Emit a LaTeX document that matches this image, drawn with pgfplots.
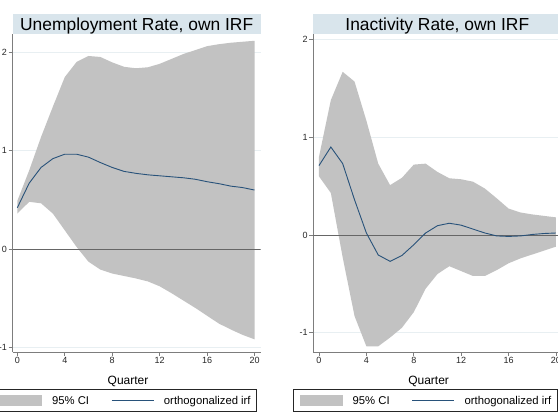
\documentclass[border=0pt]{standalone}
\usepackage{fontspec}
\setmainfont{Liberation Sans}
\usepackage{pgfplots}
\pgfplotsset{compat=1.18}
\usepackage{pgfplotstable}
\usepgfplotslibrary{fillbetween}

\definecolor{cigray}{RGB}{194,194,194}
\definecolor{irfnavy}{RGB}{40,82,122}
\definecolor{titlebg}{RGB}{217,229,236}
\definecolor{gridc}{RGB}{232,239,242}
\definecolor{axgray}{RGB}{125,125,125}

% Unemployment rate: response to own orthogonalized shock, with 95% band
\pgfplotstableread{
q   lo      irf     hi
0   0.36    0.42    0.49
1   0.48    0.67    0.80
2   0.465   0.83    1.14
3   0.36    0.92    1.45
4   0.19    0.965   1.75
5   0.02    0.965   1.905
6   -0.13   0.935   1.965
7   -0.21   0.88    1.955
8   -0.25   0.83    1.90
9   -0.275  0.79    1.855
10  -0.30   0.77    1.84
11  -0.33   0.755   1.85
12  -0.38   0.745   1.885
13  -0.45   0.735   1.935
14  -0.525  0.725   1.985
15  -0.60   0.71    2.025
16  -0.68   0.685   2.065
17  -0.76   0.665   2.085
18  -0.82   0.64    2.10
19  -0.875  0.625   2.11
20  -0.92   0.60    2.12
}\unemp

% Inactivity rate: response to own orthogonalized shock, with 95% band
\pgfplotstableread{
q   lo      irf     hi
0   0.60    0.71    0.80
1   0.43    0.90    1.38
2   -0.23   0.73    1.67
3   -0.83   0.36    1.57
4   -1.14   0.02    1.17
5   -1.14   -0.205  0.73
6   -1.05   -0.27   0.51
7   -0.95   -0.21   0.585
8   -0.79   -0.10   0.72
9   -0.55   0.02    0.73
10  -0.40   0.095   0.645
11  -0.32   0.12    0.58
12  -0.37   0.10    0.57
13  -0.42   0.06    0.545
14  -0.42   0.02    0.475
15  -0.36   -0.01   0.375
16  -0.29   -0.015  0.27
17  -0.24   -0.01   0.23
18  -0.20   0.005   0.21
19  -0.16   0.015   0.195
20  -0.12   0.02    0.18
}\inact

\pgfplotsset{
  irfpanel/.style={
    scale only axis, width=248pt, height=318pt,
    axis lines*=left,
    axis line style={axgray, line width=0.8pt},
    tick align=outside, major tick length=4pt,
    tick style={axgray, line width=0.6pt},
    xtick={0,4,...,20}, ytick={-1,0,1,2},
    ymajorgrids, grid style={gridc, line width=0.7pt},
    /pgf/number format/assume math mode=true,
    ticklabel style={font=\fontsize{9}{10}\selectfont, text=black!85},
    xticklabel style={inner sep=1.5pt},
    yticklabel style={inner sep=1.5pt},
    every axis title shift=0pt,
    title style={fill=titlebg, minimum width=248pt, minimum height=20pt,
      text height=12.5pt, text depth=0pt, inner sep=0pt,
      font=\fontsize{17.4}{20}\selectfont},
    xlabel style={at={(rel axis cs:0.465,-0.1016)}, anchor=base,
      inner sep=0pt, font=\fontsize{12}{14}\selectfont},
    xlabel={Quarter},
    legend style={at={(rel axis cs:-0.0806,-0.1164)}, anchor=north west,
      draw=black!85, line width=0.6pt, fill=white,
      inner xsep=6pt, inner ysep=5.5pt,
      font=\fontsize{11.3}{13}\selectfont,
      nodes={inner sep=0pt, text height=8.1pt, text depth=0pt},
      /tikz/every odd column/.append style={column sep=10pt},
      /tikz/every even column/.append style={column sep=22pt}},
    legend columns=2,
  },
  cipatch/.style={legend image code/.code={\fill[cigray] (0pt,-5.5pt) rectangle (43pt,5.5pt);}},
  irfline/.style={irfnavy, line width=0.9pt,
    legend image code/.code={\draw[irfnavy, line width=0.9pt] (0pt,0pt) -- (42pt,0pt);}},
}

\begin{document}
\begin{tikzpicture}

\begin{axis}[irfpanel, at={(12.7pt,60pt)}, anchor=south west,
  xmin=-0.39, xmax=20.52, ymin=-1.049, ymax=2.189,
  title={Unemployment Rate, own IRF}]
  \addplot[black!60, line width=0.8pt, forget plot] coordinates {(-0.39,0) (20.52,0)};
  \addplot[name path=uhi, draw=none, forget plot] table[x=q, y=hi] {\unemp};
  \addplot[name path=ulo, draw=none, forget plot] table[x=q, y=lo] {\unemp};
  \addplot[fill=cigray, draw=none, cipatch] fill between[of=uhi and ulo];
  \addlegendentry{95\% CI}
  \addplot[irfline] table[x=q, y=irf] {\unemp};
  \addlegendentry{orthogonalized irf}
\end{axis}

\begin{axis}[irfpanel, at={(313.3pt,60pt)}, anchor=south west,
  xmin=-0.48, xmax=20.45, ymin=-1.198, ymax=2.057,
  title={Inactivity Rate, own IRF}]
  \addplot[black!60, line width=0.8pt, forget plot] coordinates {(-0.48,0) (20.45,0)};
  \addplot[name path=ihi, draw=none, forget plot] table[x=q, y=hi] {\inact};
  \addplot[name path=ilo, draw=none, forget plot] table[x=q, y=lo] {\inact};
  \addplot[fill=cigray, draw=none, cipatch] fill between[of=ihi and ilo];
  \addlegendentry{95\% CI}
  \addplot[irfline] table[x=q, y=irf] {\inact};
  \addlegendentry{orthogonalized irf}
\end{axis}

\pgfresetboundingbox
\path[use as bounding box] (0pt,0pt) rectangle (558pt,412pt);
\end{tikzpicture}
\end{document}
